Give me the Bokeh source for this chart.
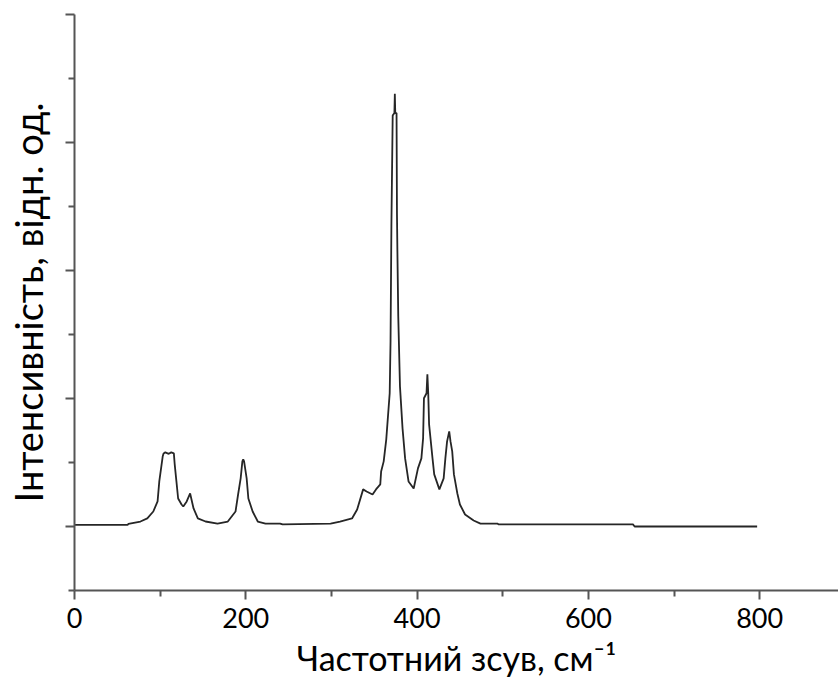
from bokeh.plotting import figure
from bokeh.models import Range1d, FixedTicker
from bokeh.embed import file_html
from bokeh.resources import INLINE

# Raman spectrum: shift (cm^-1) and intensity (arb. units)
shift_cm = [
    0, 62, 63, 77, 85, 92, 97, 99, 103, 104, 106, 110, 113, 116, 117, 119,
    121, 125, 127, 131, 135, 139, 144, 153, 167, 179, 188, 191, 194, 196,
    197, 198, 201, 203, 208, 214, 223, 240, 243, 299, 310, 324, 330, 337,
    341, 348, 352, 357, 358, 361, 364, 368, 369, 370, 371.5, 373.5, 374,
    374.5, 376, 376.5, 377, 378, 380, 383, 386, 390, 396, 401, 405, 407,
    408, 411, 412, 413, 414, 418, 420, 426, 431, 433, 435, 437.5, 439, 441,
    443, 447, 450, 456, 466, 474, 494, 495, 652, 654, 797,
]
intensity = [
    0.013, 0.013, 0.020, 0.039, 0.063, 0.117, 0.196, 0.352, 0.548, 0.571,
    0.579, 0.568, 0.579, 0.571, 0.485, 0.352, 0.219, 0.172, 0.156, 0.196,
    0.258, 0.141, 0.063, 0.039, 0.023, 0.039, 0.117, 0.250, 0.376, 0.509,
    0.524, 0.509, 0.376, 0.219, 0.117, 0.039, 0.023, 0.023, 0.016, 0.023,
    0.039, 0.063, 0.133, 0.290, 0.274, 0.250, 0.290, 0.329, 0.430, 0.509,
    0.681, 1.041, 1.450, 2.350, 3.210, 3.230, 3.380, 3.230, 3.230, 2.440,
    2.150, 1.643, 1.095, 0.767, 0.532, 0.352, 0.297, 0.454, 0.532, 0.689,
    1.002, 1.041, 1.190, 1.041, 0.798, 0.532, 0.407, 0.290, 0.376, 0.532,
    0.665, 0.743, 0.665, 0.587, 0.407, 0.258, 0.172, 0.094, 0.047, 0.023,
    0.023, 0.016, 0.016, 0.000, 0.000,
]

x_major = [0, 200, 400, 600, 800]
x_minor = [100, 300, 500, 700]
y_major = [0, 1, 2, 3, 4]
y_minor = [-0.5, 0.5, 1.5, 2.5, 3.5]

x_title = "Частотний зсув, см⁻¹"
y_title = "Інтенсивність, відн. од."

FONT = "Lato"
AXIS_COLOR = "#555555"

p = figure(
    width=838, height=680,
    x_range=Range1d(0, 892), y_range=Range1d(-0.5, 4.0),
    output_backend="svg", toolbar_location=None,
    min_border_left=74, min_border_right=0,
    min_border_top=14, min_border_bottom=90,
)
p.outline_line_color = None
p.grid.visible = False
p.background_fill_color = "white"
p.border_fill_color = "white"

p.line(shift_cm, intensity, line_color="#262626", line_width=1.8)


def style_axis(ax, major, minor):
    ax.ticker = FixedTicker(ticks=major, minor_ticks=minor)
    ax.axis_line_color = AXIS_COLOR
    ax.axis_line_width = 2
    ax.major_tick_line_color = AXIS_COLOR
    ax.major_tick_line_width = 2
    ax.minor_tick_line_color = AXIS_COLOR
    ax.minor_tick_line_width = 2
    ax.major_tick_in = 0
    ax.major_tick_out = 9
    ax.minor_tick_in = 0
    ax.minor_tick_out = 6
    ax.axis_label_text_font = FONT
    ax.axis_label_text_font_style = "normal"
    ax.axis_label_text_color = "black"


xa = p.xaxis[0]
style_axis(xa, x_major, x_minor)
xa.major_label_text_font = FONT
xa.major_label_text_font_size = "27px"
xa.major_label_text_color = "black"
xa.major_label_standoff = 8
xa.axis_label = x_title
xa.axis_label_text_font_size = "34px"
xa.axis_label_standoff = 6

ya = p.yaxis[0]
style_axis(ya, y_major, y_minor)
ya.major_label_text_font_size = "0px"
ya.major_label_text_alpha = 0
ya.major_label_standoff = 0
ya.axis_label = y_title
ya.axis_label_text_font_size = "38px"
ya.axis_label_standoff = 15

open("out.html", "w").write(file_html(p, INLINE))
